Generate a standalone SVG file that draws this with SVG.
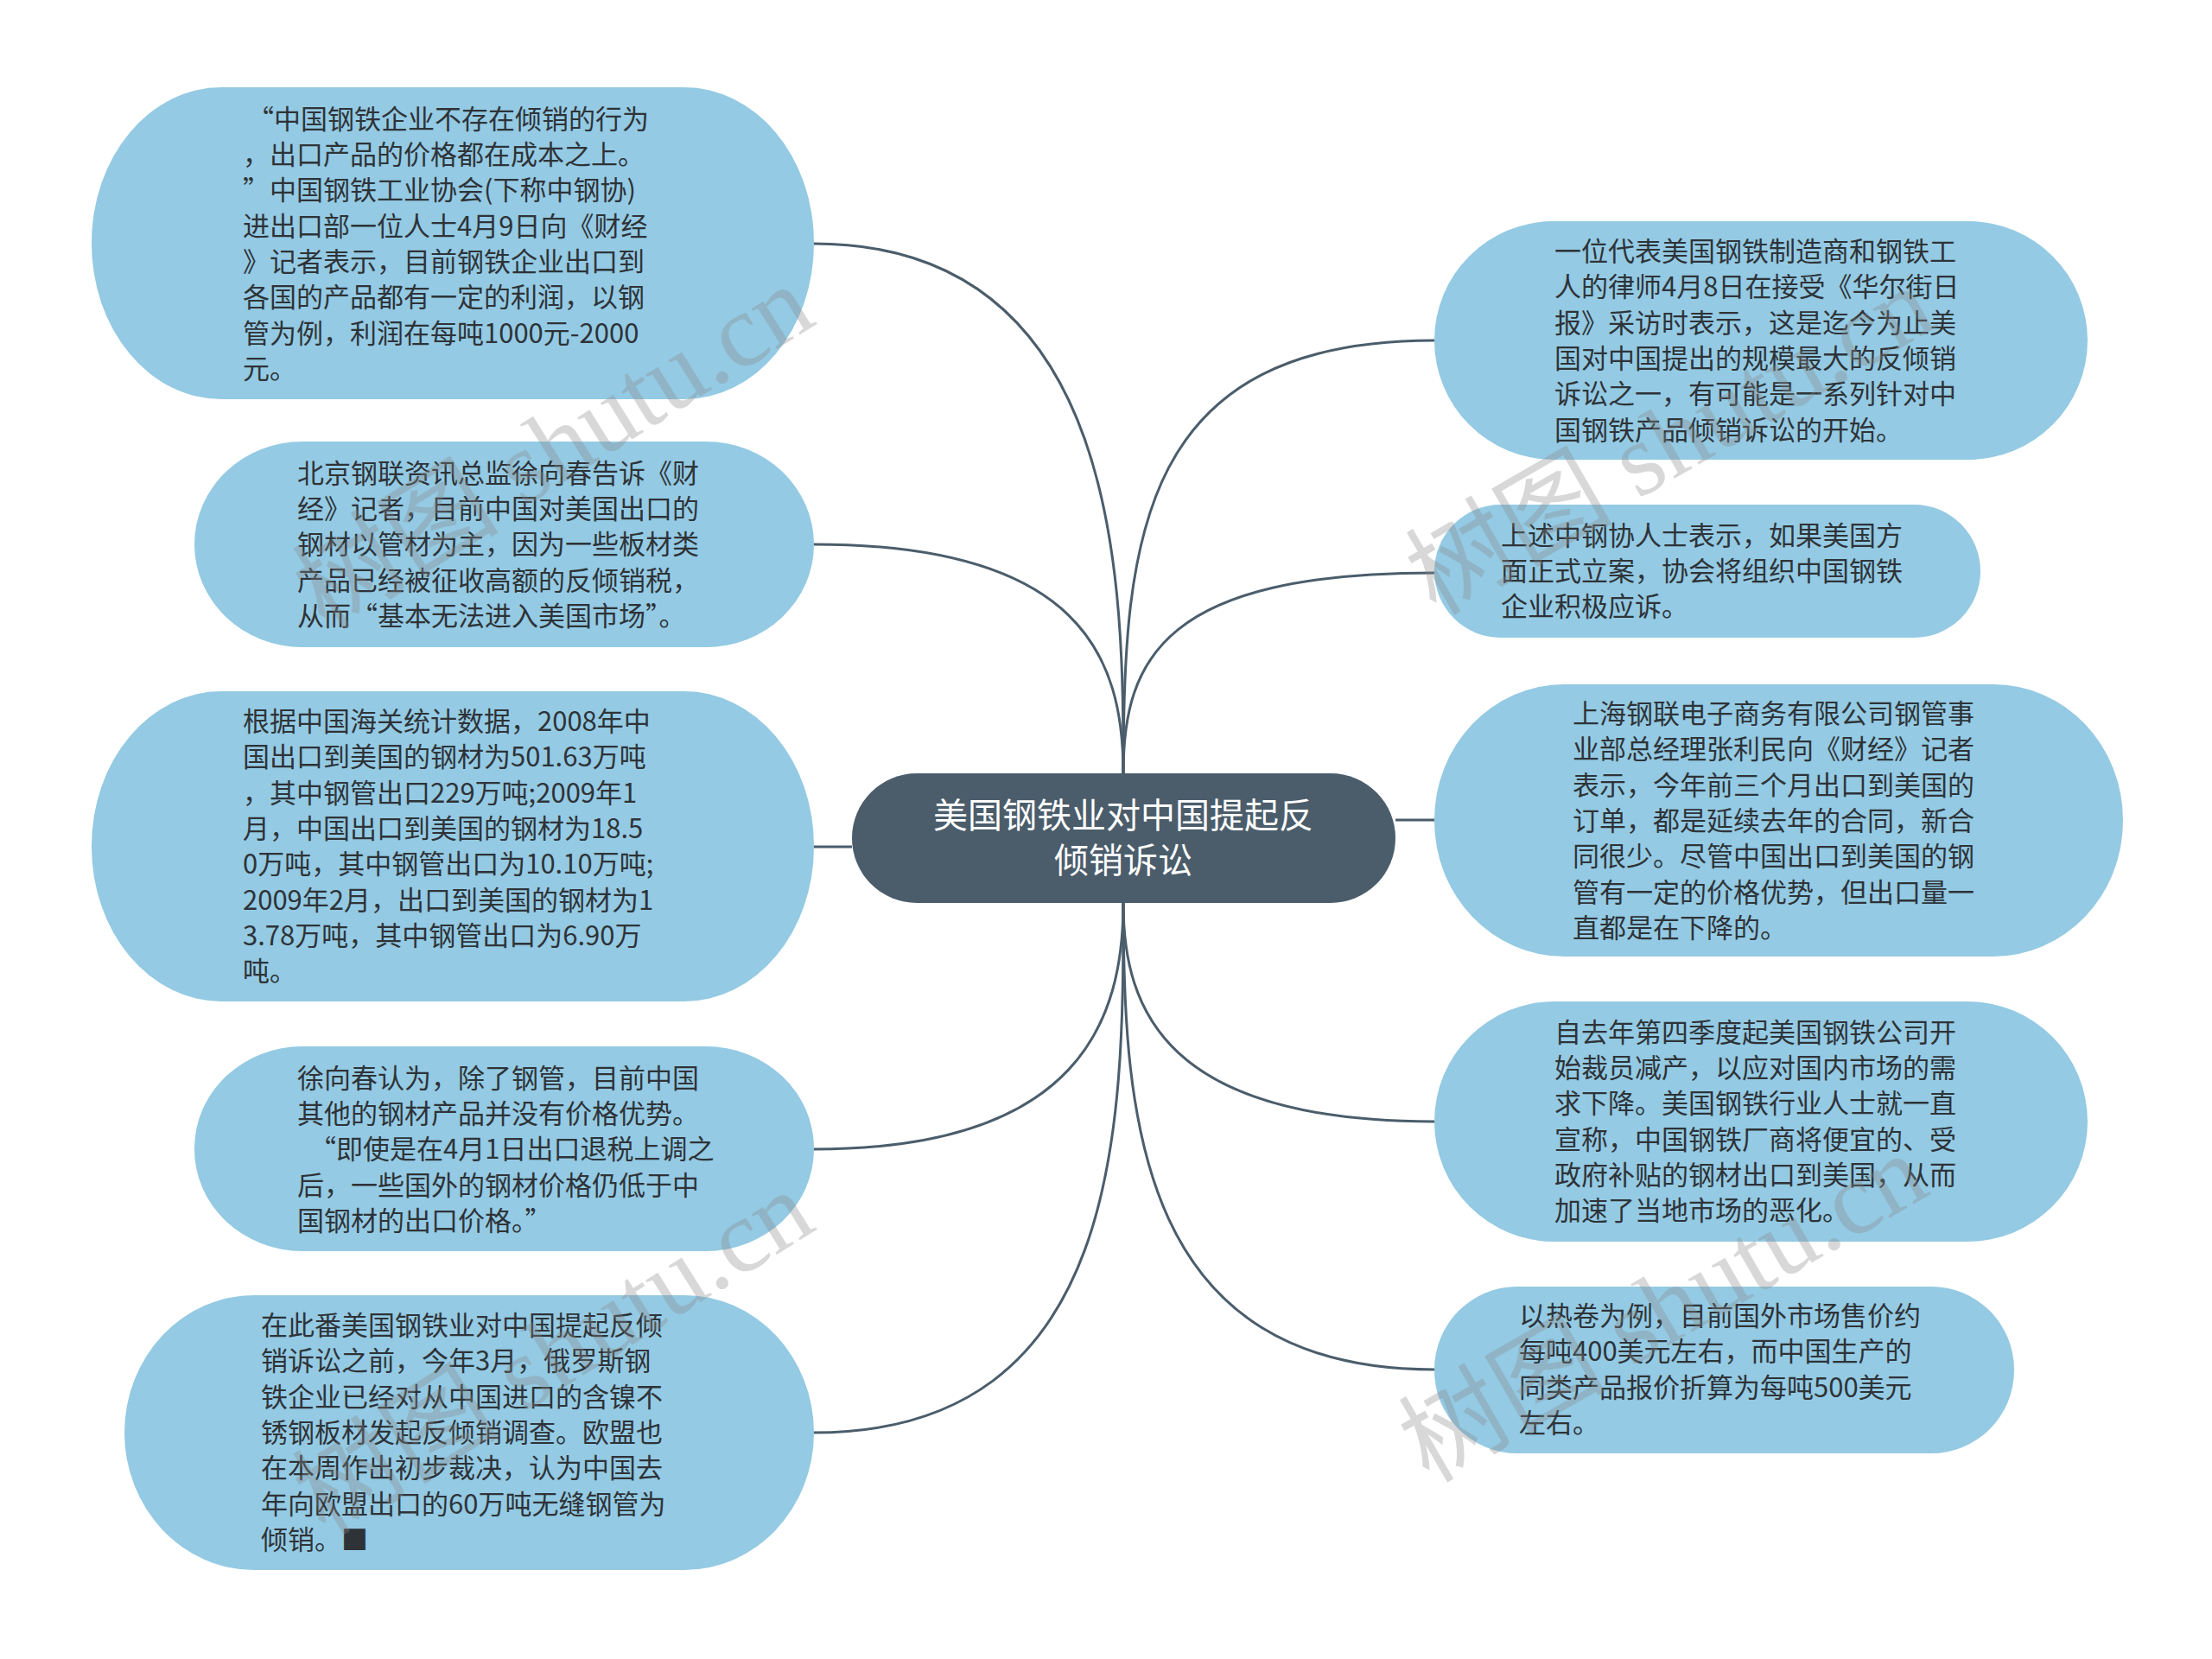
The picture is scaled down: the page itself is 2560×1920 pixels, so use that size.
<svg xmlns="http://www.w3.org/2000/svg" width="2560" height="1920" viewBox="0 0 2560 1920">
<style>
.node rect{fill:#94CAE3;}
.node text{font-family:"Noto Sans CJK SC","Liberation Sans",sans-serif;font-size:31px;fill:#2E3338;}
.center rect{fill:#4B5D6B;}
.center text{font-family:"Noto Sans CJK SC","Liberation Sans",sans-serif;font-size:40px;fill:#FFFFFF;text-anchor:middle;}
.links path{fill:none;stroke:#4B5D6B;stroke-width:3;}
.wm{font-family:"Liberation Serif","Noto Sans CJK SC",serif;font-size:120px;fill:#8A8A8A;fill-opacity:0.33;text-anchor:middle;}
</style>
<rect width="2560" height="1920" fill="#FFFFFF"/>
<g class="links">
<path d="M1300 895 C1300 680 1300 282 942 282"/>
<path d="M1300 895 C1300 760 1250 630 942 630"/>
<path d="M986 980 L942 980"/>
<path d="M1300 1045 C1300 1180 1250 1330 942 1330"/>
<path d="M1300 1045 C1300 1300 1300 1658 942 1658"/>
<path d="M1300 895 C1300 620 1320 394 1660 394"/>
<path d="M1300 895 C1300 760 1350 663 1660 663"/>
<path d="M1615 949 L1660 949"/>
<path d="M1300 1045 C1300 1170 1350 1298 1660 1298"/>
<path d="M1300 1045 C1300 1300 1320 1585 1660 1585"/>
</g>
<g id="center" class="center">
<rect x="986" y="895" width="629" height="150" rx="75" ry="75"/>
<text x="1300" y="958">美国钢铁业对中国提起反</text>
<text x="1300" y="1010">倾销诉讼</text>
</g>
<g id="L1" class="node">
<rect x="106" y="101" width="836" height="361" rx="150" ry="180"/>
<text>
<tspan x="286" y="149">“中国钢铁企业不存在倾销的行为</tspan>
<tspan x="281" y="190">，出口产品的价格都在成本之上。</tspan>
<tspan x="281" y="231">”中国钢铁工业协会(下称中钢协)</tspan>
<tspan x="281" y="273">进出口部一位人士4月9日向《财经</tspan>
<tspan x="281" y="314">》记者表示，目前钢铁企业出口到</tspan>
<tspan x="281" y="355">各国的产品都有一定的利润，以钢</tspan>
<tspan x="281" y="397">管为例，利润在每吨1000元-2000</tspan>
<tspan x="281" y="438">元。</tspan>
</text>
</g>
<g id="L2" class="node">
<rect x="225" y="511" width="717" height="238" rx="125" ry="119"/>
<text>
<tspan x="344" y="559">北京钢联资讯总监徐向春告诉《财</tspan>
<tspan x="344" y="600">经》记者，目前中国对美国出口的</tspan>
<tspan x="344" y="641">钢材以管材为主，因为一些板材类</tspan>
<tspan x="344" y="683">产品已经被征收高额的反倾销税，</tspan>
<tspan x="344" y="724">从而“基本无法进入美国市场”。</tspan>
</text>
</g>
<g id="L3" class="node">
<rect x="106" y="800" width="836" height="359" rx="150" ry="179"/>
<text>
<tspan x="281" y="846">根据中国海关统计数据，2008年中</tspan>
<tspan x="281" y="887">国出口到美国的钢材为501.63万吨</tspan>
<tspan x="281" y="929">，其中钢管出口229万吨;2009年1</tspan>
<tspan x="281" y="970">月，中国出口到美国的钢材为18.5</tspan>
<tspan x="281" y="1011">0万吨，其中钢管出口为10.10万吨;</tspan>
<tspan x="281" y="1053">2009年2月，出口到美国的钢材为1</tspan>
<tspan x="281" y="1094">3.78万吨，其中钢管出口为6.90万</tspan>
<tspan x="281" y="1135">吨。</tspan>
</text>
</g>
<g id="L4" class="node">
<rect x="225" y="1211" width="717" height="237" rx="125" ry="118"/>
<text>
<tspan x="344" y="1259">徐向春认为，除了钢管，目前中国</tspan>
<tspan x="344" y="1300">其他的钢材产品并没有价格优势。</tspan>
<tspan x="358" y="1341">“即使是在4月1日出口退税上调之</tspan>
<tspan x="344" y="1383">后，一些国外的钢材价格仍低于中</tspan>
<tspan x="344" y="1424">国钢材的出口价格。”</tspan>
</text>
</g>
<g id="L5" class="node">
<rect x="144" y="1499" width="798" height="318" rx="150" ry="159"/>
<text>
<tspan x="302" y="1545">在此番美国钢铁业对中国提起反倾</tspan>
<tspan x="302" y="1586">销诉讼之前，今年3月，俄罗斯钢</tspan>
<tspan x="302" y="1628">铁企业已经对从中国进口的含镍不</tspan>
<tspan x="302" y="1669">锈钢板材发起反倾销调查。欧盟也</tspan>
<tspan x="302" y="1710">在本周作出初步裁决，认为中国去</tspan>
<tspan x="302" y="1752">年向欧盟出口的60万吨无缝钢管为</tspan>
<tspan x="302" y="1793">倾销。■</tspan>
</text>
</g>
<g id="R1" class="node">
<rect x="1660" y="256" width="756" height="276" rx="138" ry="138"/>
<text>
<tspan x="1799" y="302">一位代表美国钢铁制造商和钢铁工</tspan>
<tspan x="1799" y="343">人的律师4月8日在接受《华尔街日</tspan>
<tspan x="1799" y="385">报》采访时表示，这是迄今为止美</tspan>
<tspan x="1799" y="426">国对中国提出的规模最大的反倾销</tspan>
<tspan x="1799" y="467">诉讼之一，有可能是一系列针对中</tspan>
<tspan x="1799" y="509">国钢铁产品倾销诉讼的开始。</tspan>
</text>
</g>
<g id="R2" class="node">
<rect x="1660" y="584" width="632" height="154" rx="77" ry="77"/>
<text>
<tspan x="1737" y="631">上述中钢协人士表示，如果美国方</tspan>
<tspan x="1737" y="672">面正式立案，协会将组织中国钢铁</tspan>
<tspan x="1737" y="713">企业积极应诉。</tspan>
</text>
</g>
<g id="R3" class="node">
<rect x="1660" y="792" width="797" height="315" rx="150" ry="157"/>
<text>
<tspan x="1820" y="837">上海钢联电子商务有限公司钢管事</tspan>
<tspan x="1820" y="878">业部总经理张利民向《财经》记者</tspan>
<tspan x="1820" y="920">表示，今年前三个月出口到美国的</tspan>
<tspan x="1820" y="961">订单，都是延续去年的合同，新合</tspan>
<tspan x="1820" y="1002">同很少。尽管中国出口到美国的钢</tspan>
<tspan x="1820" y="1044">管有一定的价格优势，但出口量一</tspan>
<tspan x="1820" y="1085">直都是在下降的。</tspan>
</text>
</g>
<g id="R4" class="node">
<rect x="1660" y="1159" width="756" height="278" rx="139" ry="139"/>
<text>
<tspan x="1799" y="1206">自去年第四季度起美国钢铁公司开</tspan>
<tspan x="1799" y="1247">始裁员减产，以应对国内市场的需</tspan>
<tspan x="1799" y="1288">求下降。美国钢铁行业人士就一直</tspan>
<tspan x="1799" y="1330">宣称，中国钢铁厂商将便宜的、受</tspan>
<tspan x="1799" y="1371">政府补贴的钢材出口到美国，从而</tspan>
<tspan x="1799" y="1412">加速了当地市场的恶化。</tspan>
</text>
</g>
<g id="R5" class="node">
<rect x="1660" y="1489" width="671" height="193" rx="96" ry="96"/>
<text>
<tspan x="1758" y="1534">以热卷为例，目前国外市场售价约</tspan>
<tspan x="1758" y="1575">每吨400美元左右，而中国生产的</tspan>
<tspan x="1758" y="1617">同类产品报价折算为每吨500美元</tspan>
<tspan x="1758" y="1658">左右。</tspan>
</text>
</g>
<g id="watermarks">
<text class="wm" transform="translate(662 552) rotate(-32)">树图 shutu.cn</text>
<text class="wm" transform="translate(1953 545) rotate(-30)">树图 shutu.cn</text>
<text class="wm" transform="translate(662 1600) rotate(-32)">树图 shutu.cn</text>
<text class="wm" transform="translate(1945 1549) rotate(-30)">树图 shutu.cn</text>
</g>
</svg>
